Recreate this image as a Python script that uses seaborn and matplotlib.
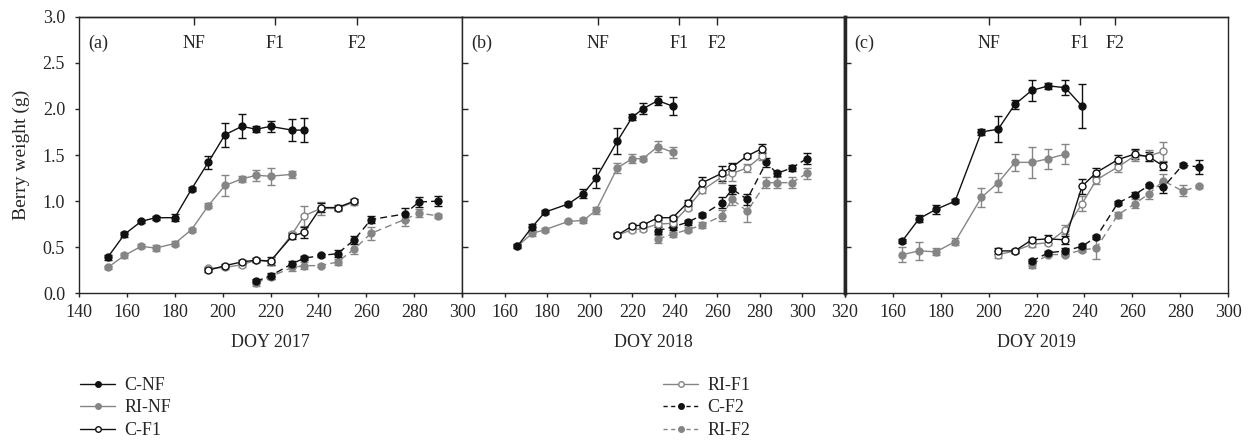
"""
Berry weight over the season for three years (C / RI x NF / F1 / F2).
"""

import matplotlib
matplotlib.use("Agg")
import matplotlib.pyplot as plt
from matplotlib.lines import Line2D
import seaborn as sns
import pandas as pd

# ---- data: 2017 ----
doy_nf_17 = [152, 159, 166, 172, 180, 187, 194, 201, 208, 214, 220, 229, 234]
c_nf_17 = [0.39, 0.64, 0.78, 0.82, 0.82, 1.13, 1.42, 1.72, 1.81, 1.78, 1.81, 1.77, 1.77]
c_nf_17_err = [0.03, 0.03, 0.02, 0.02, 0.04, 0.02, 0.07, 0.13, 0.13, 0.03, 0.06, 0.12, 0.13]
doy_ri_nf_17 = [152, 159, 166, 172, 180, 187, 194, 201, 208, 214, 220, 229]
ri_nf_17 = [0.28, 0.41, 0.51, 0.49, 0.54, 0.69, 0.95, 1.17, 1.24, 1.28, 1.27, 1.29]
ri_nf_17_err = [0.02, 0.03, 0.02, 0.03, 0.03, 0.02, 0.03, 0.11, 0.03, 0.06, 0.09, 0.04]

doy_f1_17 = [194, 201, 208, 214, 220, 229, 234, 241, 248, 255]
c_f1_17 = [0.25, 0.30, 0.34, 0.36, 0.35, 0.62, 0.66, 0.93, 0.93, 1.00]
c_f1_17_err = [0.02, 0.02, 0.02, 0.02, 0.04, 0.03, 0.06, 0.05, 0.03, 0.02]
ri_f1_17 = [0.27, 0.28, 0.31, 0.36, 0.34, 0.64, 0.84, 0.92, 0.92, 0.99]
ri_f1_17_err = [0.02, 0.02, 0.02, 0.02, 0.03, 0.03, 0.11, 0.07, 0.03, 0.03]

doy_f2_17 = [214, 220, 229, 234, 241, 248, 255, 262, 276, 282, 290]
c_f2_17 = [0.13, 0.19, 0.32, 0.38, 0.41, 0.43, 0.58, 0.80, 0.86, 0.99, 1.00]
c_f2_17_err = [0.02, 0.03, 0.03, 0.02, 0.02, 0.04, 0.04, 0.04, 0.07, 0.05, 0.05]
ri_f2_17 = [0.11, 0.18, 0.28, 0.30, 0.30, 0.34, 0.48, 0.65, 0.80, 0.87, 0.84]
ri_f2_17_err = [0.03, 0.03, 0.04, 0.04, 0.02, 0.03, 0.05, 0.07, 0.07, 0.04, 0.02]

# ---- data: 2018 ----
doy_nf_18 = [166, 173, 179, 190, 197, 203, 213, 220, 225, 232, 239]
c_nf_18 = [0.51, 0.72, 0.88, 0.97, 1.08, 1.25, 1.65, 1.91, 2.00, 2.09, 2.03]
c_nf_18_err = [0.02, 0.03, 0.02, 0.02, 0.05, 0.11, 0.14, 0.03, 0.06, 0.05, 0.10]
ri_nf_18 = [0.51, 0.65, 0.69, 0.78, 0.79, 0.90, 1.36, 1.46, 1.46, 1.59, 1.53]
ri_nf_18_err = [0.02, 0.03, 0.02, 0.02, 0.03, 0.04, 0.05, 0.05, 0.03, 0.06, 0.06]

doy_f1_18 = [213, 220, 225, 232, 239, 246, 253, 262, 267, 274, 281]
c_f1_18 = [0.63, 0.73, 0.74, 0.82, 0.82, 0.98, 1.20, 1.30, 1.37, 1.49, 1.57]
c_f1_18_err = [0.02, 0.02, 0.02, 0.02, 0.02, 0.03, 0.06, 0.08, 0.04, 0.02, 0.05]
ri_f1_18 = [0.63, 0.69, 0.70, 0.75, 0.76, 0.93, 1.12, 1.26, 1.30, 1.36, 1.49]
ri_f1_18_err = [0.02, 0.02, 0.02, 0.02, 0.02, 0.03, 0.03, 0.06, 0.08, 0.04, 0.04]

doy_f2_18 = [232, 239, 246, 253, 262, 267, 274, 283, 288, 295, 302]
c_f2_18 = [0.68, 0.72, 0.77, 0.85, 0.98, 1.13, 1.02, 1.42, 1.30, 1.36, 1.46]
c_f2_18_err = [0.04, 0.03, 0.03, 0.02, 0.06, 0.05, 0.06, 0.05, 0.03, 0.03, 0.06]
ri_f2_18 = [0.59, 0.64, 0.69, 0.74, 0.84, 1.02, 0.89, 1.20, 1.20, 1.20, 1.30]
ri_f2_18_err = [0.04, 0.03, 0.03, 0.03, 0.06, 0.06, 0.12, 0.06, 0.06, 0.06, 0.06]

# ---- data: 2019 ----
doy_nf_19 = [164, 171, 178, 186, 197, 204, 211, 218, 225, 232, 239]
c_nf_19 = [0.57, 0.81, 0.91, 1.00, 1.75, 1.78, 2.05, 2.20, 2.25, 2.23, 2.03]
c_nf_19_err = [0.02, 0.04, 0.05, 0.02, 0.03, 0.14, 0.05, 0.11, 0.03, 0.08, 0.24]
doy_ri_nf_19 = [164, 171, 178, 186, 197, 204, 211, 218, 225, 232]
ri_nf_19 = [0.42, 0.46, 0.45, 0.56, 1.04, 1.20, 1.42, 1.42, 1.46, 1.51]
ri_nf_19_err = [0.08, 0.10, 0.04, 0.04, 0.10, 0.10, 0.09, 0.17, 0.11, 0.11]

doy_f1_19 = [204, 211, 218, 225, 232, 239, 245, 254, 261, 267, 273]
c_f1_19 = [0.46, 0.46, 0.58, 0.59, 0.58, 1.16, 1.31, 1.45, 1.51, 1.48, 1.38]
c_f1_19_err = [0.03, 0.02, 0.03, 0.04, 0.04, 0.08, 0.05, 0.05, 0.05, 0.05, 0.04]
ri_f1_19 = [0.42, 0.46, 0.53, 0.55, 0.69, 0.97, 1.23, 1.37, 1.49, 1.49, 1.54]
ri_f1_19_err = [0.04, 0.02, 0.03, 0.03, 0.05, 0.08, 0.04, 0.05, 0.06, 0.06, 0.10]

doy_f2_19 = [218, 225, 232, 239, 245, 254, 261, 267, 273, 281, 288]
c_f2_19 = [0.35, 0.44, 0.46, 0.51, 0.61, 0.98, 1.07, 1.17, 1.15, 1.39, 1.37]
c_f2_19_err = [0.02, 0.02, 0.03, 0.02, 0.02, 0.02, 0.03, 0.02, 0.06, 0.02, 0.08]
ri_f2_19 = [0.31, 0.42, 0.42, 0.47, 0.49, 0.85, 0.97, 1.08, 1.22, 1.11, 1.16]
ri_f2_19_err = [0.04, 0.02, 0.02, 0.02, 0.12, 0.03, 0.05, 0.06, 0.07, 0.06, 0.02]

# fruit-set markers on top axis (NF, F1, F2)
event_labels = ["NF", "F1", "F2"]
events_17 = [188, 222, 256]
events_18 = [204, 242, 260]
events_19 = [200, 238, 253]

panel_tags = ["(a)", "(b)", "(c)"]
xlabels = ["DOY 2017", "DOY 2018", "DOY 2019"]
xlims = [(140, 300), (140, 320), (140, 300)]
yticks = [0.0, 0.5, 1.0, 1.5, 2.0, 2.5, 3.0]

# Style settings
sns.set_style("ticks")
plt.rcParams['font.family'] = ['Liberation Serif', 'DejaVu Serif']
plt.rcParams['font.size'] = 13
plt.rcParams['axes.linewidth'] = 1.0

BLACK = "#111111"
GRAY = "#858585"
DASH = (0, (5, 3))

# name -> (color, face, linestyle)
styles = {
    "C-NF": (BLACK, BLACK, "-"),
    "RI-NF": (GRAY, GRAY, "-"),
    "C-F1": (BLACK, "white", "-"),
    "RI-F1": (GRAY, "white", "-"),
    "C-F2": (BLACK, BLACK, DASH),
    "RI-F2": (GRAY, GRAY, DASH),
}

years = [
    [("RI-NF", doy_ri_nf_17, ri_nf_17, ri_nf_17_err),
     ("C-NF", doy_nf_17, c_nf_17, c_nf_17_err),
     ("RI-F2", doy_f2_17, ri_f2_17, ri_f2_17_err),
     ("C-F2", doy_f2_17, c_f2_17, c_f2_17_err),
     ("RI-F1", doy_f1_17, ri_f1_17, ri_f1_17_err),
     ("C-F1", doy_f1_17, c_f1_17, c_f1_17_err)],
    [("RI-NF", doy_nf_18, ri_nf_18, ri_nf_18_err),
     ("C-NF", doy_nf_18, c_nf_18, c_nf_18_err),
     ("RI-F2", doy_f2_18, ri_f2_18, ri_f2_18_err),
     ("C-F2", doy_f2_18, c_f2_18, c_f2_18_err),
     ("RI-F1", doy_f1_18, ri_f1_18, ri_f1_18_err),
     ("C-F1", doy_f1_18, c_f1_18, c_f1_18_err)],
    [("RI-NF", doy_ri_nf_19, ri_nf_19, ri_nf_19_err),
     ("C-NF", doy_nf_19, c_nf_19, c_nf_19_err),
     ("RI-F2", doy_f2_19, ri_f2_19, ri_f2_19_err),
     ("C-F2", doy_f2_19, c_f2_19, c_f2_19_err),
     ("RI-F1", doy_f1_19, ri_f1_19, ri_f1_19_err),
     ("C-F1", doy_f1_19, c_f1_19, c_f1_19_err)],
]
events = [events_17, events_18, events_19]

W, H = 1252, 443
fig = plt.figure(figsize=(W / 100, H / 100), dpi=100)

ax_left = [79, 462, 845]
ax_w, ax_top, ax_bot = 383, 16.7, 293.3

for i, series in enumerate(years):
    ax = fig.add_axes([ax_left[i] / W, 1 - ax_bot / H, ax_w / W, (ax_bot - ax_top) / H])

    for name, doy, val, err in series:
        color, face, ls = styles[name]
        df = pd.DataFrame({"doy": doy, "w": val})
        ax.errorbar(doy, val, yerr=err, fmt="none", ecolor=color,
                    elinewidth=1.0, capsize=3, capthick=1.0, zorder=2)
        sns.lineplot(data=df, x="doy", y="w", ax=ax, estimator=None, sort=False,
                     color=color, linestyle=ls, linewidth=1.0, marker="o",
                     markersize=5, markerfacecolor=face, markeredgecolor=color,
                     markeredgewidth=1.0, zorder=3)

    xt = list(range(140, xlims[i][1] + 1, 20))
    ax.set_xlim(*xlims[i])
    ax.set_ylim(0, 3.0)
    ax.set_xticks(xt)
    ax.set_xlabel(xlabels[i], labelpad=9)
    ax.tick_params(axis="x", direction="out", length=3, width=1, pad=5)

    if i == 0:
        ax.set_yticks(yticks)
        ax.set_yticklabels([f"{v:.1f}" for v in yticks])
        ax.set_ylabel("Berry weight (g)", labelpad=9, fontsize=14)
        ax.tick_params(axis="y", direction="out", length=3, width=1, pad=7)
    else:
        ax.set_yticks(yticks[1:-1])
        ax.set_yticklabels([])
        ax.set_ylabel("")
        ax.tick_params(axis="y", direction="in", length=4, width=1)
        # first x label would collide with the neighbour's last label
        ax.set_xticklabels([""] + [str(t) for t in xt[1:]])
    if i == 2:
        ax.spines["left"].set_linewidth(2.5)
    if i == 1:
        ax.spines["right"].set_linewidth(2.5)

    # event ticks on top
    top = ax.secondary_xaxis("top")
    top.set_xticks(events[i])
    top.set_xticklabels([])
    top.tick_params(direction="in", length=6, width=1)
    for ev, lab in zip(events[i], event_labels):
        ax.text(ev, 2.71, lab, ha="center", va="center")

    ax.text(0.025, 0.905, panel_tags[i], transform=ax.transAxes, ha="left", va="center")

    for sp in ["top", "right"]:
        ax.spines[sp].set_visible(True)
    if ax.get_legend():
        ax.get_legend().remove()


def handle(name):
    color, face, ls = styles[name]
    if ls == DASH:
        ls = (0, (3, 2.5))
    return Line2D([0], [0], color=color, linestyle=ls, linewidth=1.0, marker="o",
                  markersize=4, markerfacecolor=face, markeredgecolor=color)


leg_kw = dict(frameon=False, handlelength=1.95, handletextpad=0.5,
              labelspacing=0.3, borderpad=0, borderaxespad=0,
              loc="upper left", fontsize=13)
col1 = ["C-NF", "RI-NF", "C-F1"]
col2 = ["RI-F1", "C-F2", "RI-F2"]
fig.legend([handle(n) for n in col1], col1,
           bbox_to_anchor=(80 / W, 1 - 377 / H), **leg_kw)
fig.legend([handle(n) for n in col2], col2,
           bbox_to_anchor=(663 / W, 1 - 377 / H), **leg_kw)

fig.savefig("out.png", dpi=100)
